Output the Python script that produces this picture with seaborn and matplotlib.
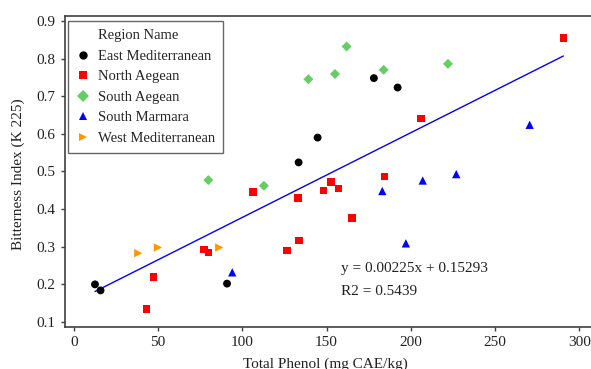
import numpy as np
import pandas as pd
import seaborn as sns
import matplotlib.pyplot as plt
from matplotlib.lines import Line2D

sns.set_theme(style="white")
plt.rcParams['font.family'] = ['Liberation Serif', 'DejaVu Serif']
plt.rcParams['mathtext.fontset'] = 'stix'

# data
east_x = [12.5, 15.8, 90.9, 133.4, 144.7, 178.1, 192.2]
east_y = [0.200, 0.184, 0.202, 0.524, 0.590, 0.748, 0.723]
north_x = [43.1, 47.3, 77.2, 79.8, 106.3, 126.5, 133.2, 133.8, 148.1, 152.6, 157.0, 165.1, 184.5, 205.9, 290.6]
north_y = [0.134, 0.219, 0.293, 0.285, 0.446, 0.290, 0.429, 0.317, 0.449, 0.472, 0.455, 0.377, 0.487, 0.641, 0.854]
saeg_x = [79.8, 112.8, 139.2, 155.0, 161.9, 183.9, 222.1]
saeg_y = [0.477, 0.462, 0.745, 0.759, 0.832, 0.770, 0.786]
smar_x = [94.0, 183.1, 197.1, 207.1, 227.0, 270.6]
smar_y = [0.232, 0.448, 0.309, 0.476, 0.493, 0.624]
west_x = [38.2, 49.9, 86.3]
west_y = [0.283, 0.298, 0.298]

regions = ["East Mediterranean", "North Aegean", "South Aegean", "South Marmara", "West Mediterranean"]
slope, intercept, r2 = 0.00225, 0.15293, 0.5439

df = pd.concat([
    pd.DataFrame({"x": east_x, "y": east_y, "region": regions[0]}),
    pd.DataFrame({"x": north_x, "y": north_y, "region": regions[1]}),
    pd.DataFrame({"x": saeg_x, "y": saeg_y, "region": regions[2]}),
    pd.DataFrame({"x": smar_x, "y": smar_y, "region": regions[3]}),
    pd.DataFrame({"x": west_x, "y": west_y, "region": regions[4]}),
], ignore_index=True)

colors = {regions[0]: "black", regions[1]: "#FF0000", regions[2]: "#66CC66",
          regions[3]: "#0000FF", regions[4]: "#FF9900"}
markers = {regions[0]: "o", regions[1]: "s", regions[2]: "D",
           regions[3]: "^", regions[4]: ">"}
sizes = {regions[0]: 32, regions[1]: 30, regions[2]: 26, regions[3]: 36, regions[4]: 36}

fig = plt.figure(figsize=(5.91, 3.69), dpi=100)
ax = fig.add_axes([0.110, 0.1146, 0.8985, 0.843])

# fitted line
fit_x = np.array([df["x"].min(), df["x"].max()])
sns.lineplot(x=fit_x, y=slope * fit_x + intercept, color="#0000FF", lw=1, ax=ax, zorder=1)

for r in regions:
    d = df[df["region"] == r]
    sns.scatterplot(data=d, x="x", y="y", color=colors[r], marker=markers[r],
                    s=sizes[r], edgecolor="none", ax=ax, zorder=3)

ax.set_xlim(-5.3, 310)
ax.set_ylim(0.0875, 0.914)
ax.set_xticks([0, 50, 100, 150, 200, 250, 300])
ax.set_yticks([0.1, 0.2, 0.3, 0.4, 0.5, 0.6, 0.7, 0.8, 0.9])
ax.set_yticklabels(["0.1", "0.2", "0.3", "0.4", "0.5", "0.6", "0.7", "0.8", "0.9"])
ax.tick_params(axis="both", direction="out", length=3, width=1, color="#404040",
               labelsize=11, pad=4, left=True, bottom=True, labelcolor="#222222")
for sp in ax.spines.values():
    sp.set_color("#404040")
    sp.set_linewidth(1.2)

ax.set_xlabel("Total Phenol (mg CAE/kg)", fontsize=11, color="#222222")
ax.set_ylabel("Bitterness Index (K 225)", fontsize=11, color="#222222")
ax.xaxis.set_label_coords(0.49, -0.098)
ax.yaxis.set_label_coords(-0.076, 0.49)

ax.text(158.5, 0.241, "y = 0.00225x + 0.15293", fontsize=11, va="center", color="#222222")
ax.text(158.5, 0.182, "R2 = %.4f" % r2, fontsize=11, va="center", color="#222222")

# legend with title as first row, aligned with labels
handles = [Line2D([], [], linestyle="none", marker=None)]
labels = ["Region Name"]
for r in regions:
    handles.append(Line2D([], [], linestyle="none", marker=markers[r], color=colors[r],
                          markersize=6, markeredgewidth=0))
    labels.append(r)
leg = ax.legend(handles, labels, loc="upper left", bbox_to_anchor=(0.0056, 0.983),
                borderaxespad=0, fontsize=10.5, frameon=True, fancybox=False,
                labelspacing=0.5, handlelength=1.0, handletextpad=0.5,
                borderpad=0.55)
leg.get_frame().set_edgecolor("#404040")
leg.get_frame().set_linewidth(1.0)

fig.savefig("out.png", dpi=100)
